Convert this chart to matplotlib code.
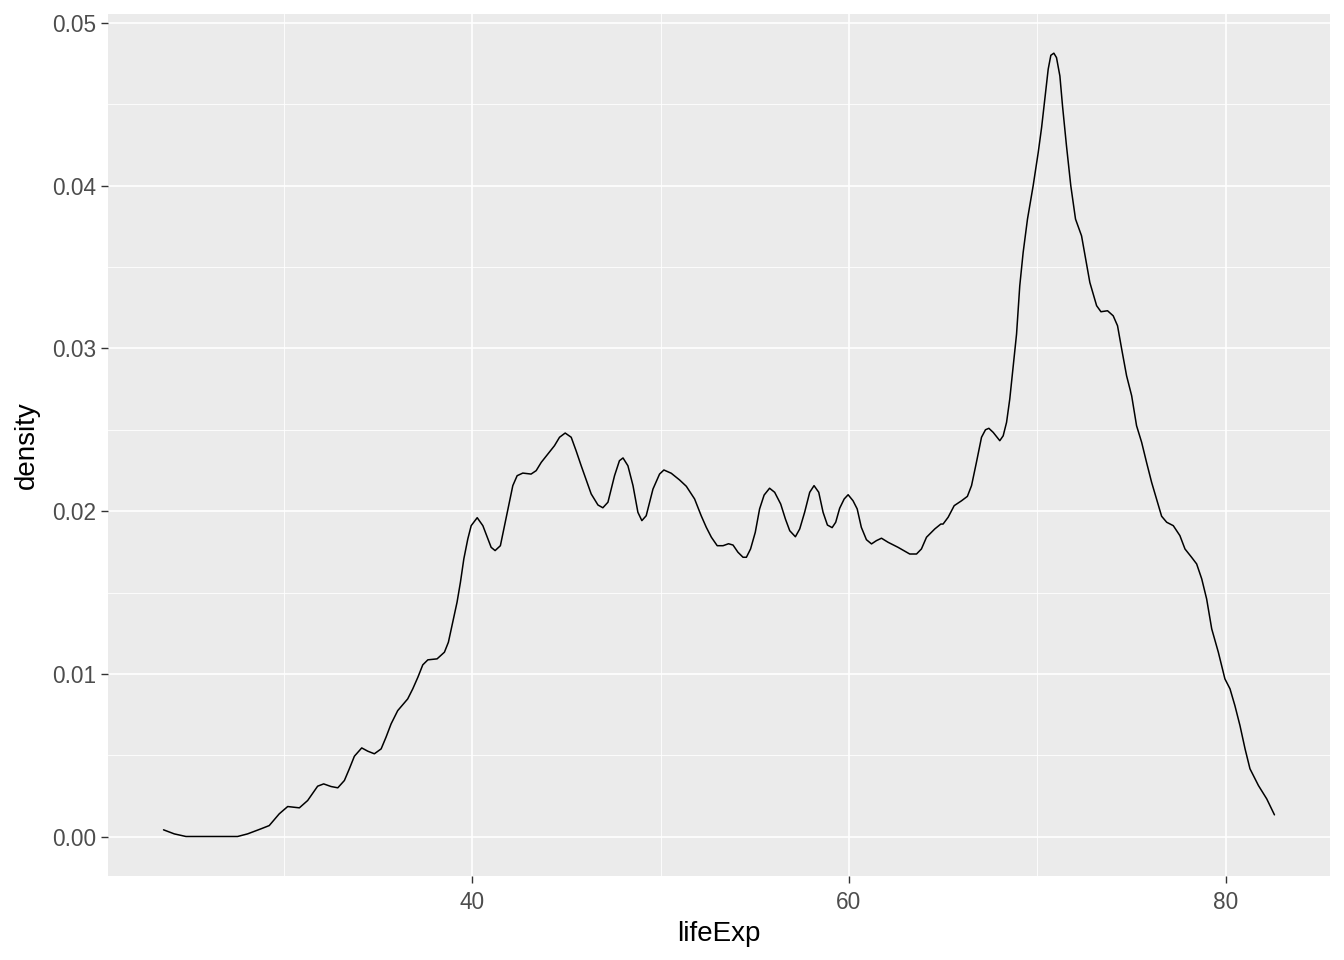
import matplotlib
matplotlib.use("Agg")
import matplotlib.pyplot as plt

# density of lifeExp
life_exp = [23.62, 24.19, 24.81, 27.55, 28.08, 28.79, 29.23, 29.76, 30.21, 30.83,
            31.27, 31.80, 32.12, 32.51, 32.87, 33.22, 33.48, 33.75, 34.14, 34.46,
            34.81, 35.17, 35.43, 35.70, 36.05, 36.58, 36.85, 37.12, 37.38, 37.65,
            38.14, 38.53, 38.74, 38.97, 39.20, 39.38, 39.56, 39.77,
            39.95, 40.27, 40.57, 41.01, 41.22, 41.50, 41.90, 42.16, 42.39, 42.69,
            43.13, 43.40, 43.67, 44.37, 44.64, 44.94, 45.26, 45.52, 45.79, 46.32,
            46.68, 46.94, 47.21, 47.56, 47.82, 48.01, 48.27, 48.54, 48.80, 49.01,
            49.24, 49.60, 49.95, 50.18, 50.57, 51.01, 51.37, 51.81,
            52.16, 52.43, 52.70, 53.01, 53.32, 53.61, 53.85, 54.11, 54.38, 54.56,
            54.78, 55.03, 55.26, 55.50, 55.79, 56.06, 56.38, 56.63, 56.86, 57.16,
            57.39, 57.65, 57.92, 58.15, 58.40, 58.63, 58.86, 59.11, 59.30, 59.51,
            59.75, 59.96, 60.22, 60.44, 60.66, 60.93, 61.20, 61.46, 61.73, 62.08,
            62.61, 63.23, 63.59, 63.85, 64.12, 64.56, 64.88,
            65.00, 65.27, 65.59, 65.98, 66.29, 66.51, 66.77, 67.04, 67.25, 67.43,
            67.66, 68.01, 68.19, 68.37, 68.54,
            68.90, 69.07, 69.25, 69.48, 69.78, 70.05, 70.23, 70.40, 70.58, 70.72,
            70.88, 71.02, 71.20, 71.34, 71.55, 71.78, 72.03, 72.35, 72.79, 73.15,
            73.38, 73.73, 74.03,
            74.26, 74.48, 74.74, 75.01, 75.27, 75.54, 75.80, 76.07, 76.33, 76.60,
            76.87, 77.22, 77.57, 77.84, 78.19, 78.46, 78.73, 78.99, 79.26, 79.61,
            79.96, 80.23, 80.49, 80.76, 81.03, 81.29, 81.74, 82.18, 82.59]
density = [0.00043, 0.00018, 0.00002, 0.00002, 0.00018, 0.00049, 0.00069, 0.00141, 0.00186, 0.00178,
           0.00223, 0.00311, 0.00325, 0.00309, 0.00301, 0.00346, 0.00417, 0.00495, 0.00546, 0.00526,
           0.00510, 0.00540, 0.00612, 0.00694, 0.00775, 0.00847, 0.00909, 0.00980, 0.01056, 0.01087,
           0.01093, 0.01134, 0.01195, 0.01318, 0.01441, 0.01564, 0.01707, 0.01829,
           0.01911, 0.01960, 0.01911, 0.01778, 0.01758, 0.01788, 0.02013, 0.02157, 0.02218, 0.02234,
           0.02228, 0.02249, 0.02300, 0.02402, 0.02454, 0.02480, 0.02454, 0.02371, 0.02279, 0.02106,
           0.02038, 0.02021, 0.02055, 0.02218, 0.02310, 0.02327, 0.02279, 0.02157, 0.01993, 0.01942,
           0.01972, 0.02136, 0.02228, 0.02253, 0.02233, 0.02192, 0.02153, 0.02075,
           0.01972, 0.01901, 0.01840, 0.01788, 0.01788, 0.01800, 0.01792, 0.01748, 0.01717, 0.01717,
           0.01768, 0.01870, 0.02014, 0.02099, 0.02141, 0.02116, 0.02044, 0.01952, 0.01880, 0.01843,
           0.01891, 0.01993, 0.02116, 0.02157, 0.02116, 0.01993, 0.01915, 0.01899, 0.01932, 0.02018,
           0.02075, 0.02101, 0.02064, 0.02014, 0.01901, 0.01825, 0.01799, 0.01819, 0.01834, 0.01809,
           0.01778, 0.01737, 0.01737, 0.01768, 0.01840, 0.01891, 0.01921,
           0.01921, 0.01963, 0.02034, 0.02064, 0.02091, 0.02157, 0.02300, 0.02454, 0.02500, 0.02509,
           0.02484, 0.02433, 0.02463, 0.02546, 0.02689,
           0.03088, 0.03384, 0.03589, 0.03794, 0.03998, 0.04203, 0.04357, 0.04530, 0.04715, 0.04800,
           0.04813, 0.04786, 0.04673, 0.04489, 0.04244, 0.03998, 0.03794, 0.03691, 0.03405, 0.03262,
           0.03225, 0.03231, 0.03200,
           0.03139, 0.02996, 0.02832, 0.02709, 0.02525, 0.02423, 0.02300, 0.02177, 0.02075, 0.01969,
           0.01932, 0.01911, 0.01850, 0.01768, 0.01717, 0.01676, 0.01584, 0.01461, 0.01277, 0.01134,
           0.00970, 0.00909, 0.00806, 0.00683, 0.00540, 0.00418, 0.00315, 0.00233, 0.00135]

x_ticks = [40, 60, 80]
x_minor = [30, 50, 70]
y_ticks = [0.00, 0.01, 0.02, 0.03, 0.04, 0.05]
y_minor = [0.005, 0.015, 0.025, 0.035, 0.045]

plt.rcParams['font.family'] = ['Liberation Sans', 'DejaVu Sans']

fig = plt.figure(figsize=(13.44, 9.6), dpi=100)
ax = fig.add_axes([108 / 1344, 1 - 876 / 960, (1330 - 108) / 1344, (876 - 14) / 960])
ax.set_facecolor('#EBEBEB')

# ggplot-like 5% expansion
xmin, xmax = min(life_exp), max(life_exp)
pad = (xmax - xmin) * 0.05
ax.set_xlim(xmin - pad, xmax + pad)
ymax = max(density)
ax.set_ylim(-ymax * 0.05, ymax * 1.05)

for v in x_minor:
    ax.axvline(v, color='white', lw=0.6, zorder=0)
for v in y_minor:
    ax.axhline(v, color='white', lw=0.6, zorder=0)
for v in x_ticks:
    ax.axvline(v, color='white', lw=1.2, zorder=0)
for v in y_ticks:
    ax.axhline(v, color='white', lw=1.2, zorder=0)

ax.plot(life_exp, density, color='black', lw=1.1, zorder=3,
        solid_joinstyle='round', solid_capstyle='round')

ax.set_xticks(x_ticks)
ax.set_yticks(y_ticks)
ax.set_yticklabels(['%.2f' % v for v in y_ticks])
ax.tick_params(axis='both', length=5, width=1, color='#333333',
               labelsize=16.3, labelcolor='#4D4D4D')
ax.tick_params(axis='x', pad=6)
ax.tick_params(axis='y', pad=3.6)
for s in ax.spines.values():
    s.set_visible(False)

ax.set_xlabel('lifeExp', fontsize=20, color='black', labelpad=5)
ax.set_ylabel('density', fontsize=20, color='black', labelpad=9)

fig.savefig('out.png', dpi=100)
